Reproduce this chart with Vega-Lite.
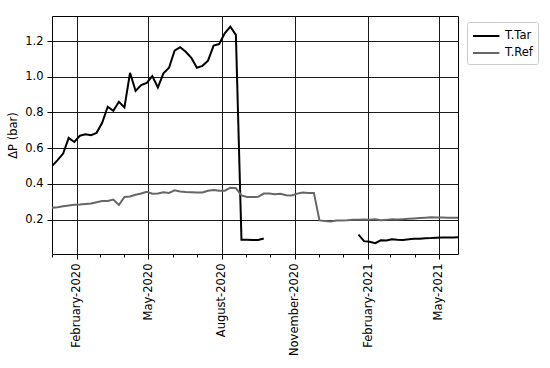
{
  "$schema": "https://vega.github.io/schema/vega-lite/v6.json",
  "width": 406,
  "height": 238,
  "autosize": "none",
  "padding": {"left": 52, "top": 16, "right": 92, "bottom": 114},
  "background": "white",
  "config": {
    "font": "DejaVu Sans",
    "view": {"stroke": "#000", "strokeWidth": 1}
  },
  "data": {"values": [
    {"s":"T.Tar","seg":"a","d":"2020-01-01","v":0.50},
    {"s":"T.Tar","seg":"a","d":"2020-01-08","v":0.533},
    {"s":"T.Tar","seg":"a","d":"2020-01-15","v":0.57},
    {"s":"T.Tar","seg":"a","d":"2020-01-22","v":0.658},
    {"s":"T.Tar","seg":"a","d":"2020-01-29","v":0.635},
    {"s":"T.Tar","seg":"a","d":"2020-02-05","v":0.67},
    {"s":"T.Tar","seg":"a","d":"2020-02-12","v":0.678},
    {"s":"T.Tar","seg":"a","d":"2020-02-19","v":0.673},
    {"s":"T.Tar","seg":"a","d":"2020-02-26","v":0.686},
    {"s":"T.Tar","seg":"a","d":"2020-03-04","v":0.742},
    {"s":"T.Tar","seg":"a","d":"2020-03-11","v":0.832},
    {"s":"T.Tar","seg":"a","d":"2020-03-18","v":0.81},
    {"s":"T.Tar","seg":"a","d":"2020-03-25","v":0.86},
    {"s":"T.Tar","seg":"a","d":"2020-04-01","v":0.828},
    {"s":"T.Tar","seg":"a","d":"2020-04-08","v":1.022},
    {"s":"T.Tar","seg":"a","d":"2020-04-15","v":0.921},
    {"s":"T.Tar","seg":"a","d":"2020-04-22","v":0.953},
    {"s":"T.Tar","seg":"a","d":"2020-04-29","v":0.966},
    {"s":"T.Tar","seg":"a","d":"2020-05-06","v":1.004},
    {"s":"T.Tar","seg":"a","d":"2020-05-13","v":0.94},
    {"s":"T.Tar","seg":"a","d":"2020-05-20","v":1.019},
    {"s":"T.Tar","seg":"a","d":"2020-05-27","v":1.05},
    {"s":"T.Tar","seg":"a","d":"2020-06-03","v":1.146},
    {"s":"T.Tar","seg":"a","d":"2020-06-10","v":1.165},
    {"s":"T.Tar","seg":"a","d":"2020-06-17","v":1.14},
    {"s":"T.Tar","seg":"a","d":"2020-06-24","v":1.106},
    {"s":"T.Tar","seg":"a","d":"2020-07-01","v":1.05},
    {"s":"T.Tar","seg":"a","d":"2020-07-08","v":1.061},
    {"s":"T.Tar","seg":"a","d":"2020-07-15","v":1.09},
    {"s":"T.Tar","seg":"a","d":"2020-07-22","v":1.174},
    {"s":"T.Tar","seg":"a","d":"2020-07-29","v":1.183},
    {"s":"T.Tar","seg":"a","d":"2020-08-05","v":1.243},
    {"s":"T.Tar","seg":"a","d":"2020-08-12","v":1.28},
    {"s":"T.Tar","seg":"a","d":"2020-08-19","v":1.234},
    {"s":"T.Tar","seg":"a","d":"2020-08-26","v":0.088},
    {"s":"T.Tar","seg":"a","d":"2020-09-02","v":0.088},
    {"s":"T.Tar","seg":"a","d":"2020-09-09","v":0.087},
    {"s":"T.Tar","seg":"a","d":"2020-09-16","v":0.087},
    {"s":"T.Tar","seg":"a","d":"2020-09-23","v":0.095},
    {"s":"T.Tar","seg":"b","d":"2021-01-20","v":0.116},
    {"s":"T.Tar","seg":"b","d":"2021-01-27","v":0.080},
    {"s":"T.Tar","seg":"b","d":"2021-02-03","v":0.076},
    {"s":"T.Tar","seg":"b","d":"2021-02-10","v":0.069},
    {"s":"T.Tar","seg":"b","d":"2021-02-17","v":0.085},
    {"s":"T.Tar","seg":"b","d":"2021-02-24","v":0.083},
    {"s":"T.Tar","seg":"b","d":"2021-03-03","v":0.090},
    {"s":"T.Tar","seg":"b","d":"2021-03-10","v":0.088},
    {"s":"T.Tar","seg":"b","d":"2021-03-17","v":0.087},
    {"s":"T.Tar","seg":"b","d":"2021-03-24","v":0.090},
    {"s":"T.Tar","seg":"b","d":"2021-03-31","v":0.094},
    {"s":"T.Tar","seg":"b","d":"2021-04-07","v":0.094},
    {"s":"T.Tar","seg":"b","d":"2021-04-14","v":0.096},
    {"s":"T.Tar","seg":"b","d":"2021-04-21","v":0.097},
    {"s":"T.Tar","seg":"b","d":"2021-04-28","v":0.099},
    {"s":"T.Tar","seg":"b","d":"2021-05-05","v":0.101},
    {"s":"T.Tar","seg":"b","d":"2021-05-12","v":0.100},
    {"s":"T.Tar","seg":"b","d":"2021-05-19","v":0.100},
    {"s":"T.Tar","seg":"b","d":"2021-05-25","v":0.102},
    {"s":"T.Ref","seg":"c","d":"2020-01-01","v":0.267},
    {"s":"T.Ref","seg":"c","d":"2020-01-08","v":0.270},
    {"s":"T.Ref","seg":"c","d":"2020-01-15","v":0.275},
    {"s":"T.Ref","seg":"c","d":"2020-01-22","v":0.280},
    {"s":"T.Ref","seg":"c","d":"2020-01-29","v":0.283},
    {"s":"T.Ref","seg":"c","d":"2020-02-05","v":0.285},
    {"s":"T.Ref","seg":"c","d":"2020-02-12","v":0.288},
    {"s":"T.Ref","seg":"c","d":"2020-02-19","v":0.291},
    {"s":"T.Ref","seg":"c","d":"2020-02-26","v":0.298},
    {"s":"T.Ref","seg":"c","d":"2020-03-04","v":0.305},
    {"s":"T.Ref","seg":"c","d":"2020-03-11","v":0.305},
    {"s":"T.Ref","seg":"c","d":"2020-03-18","v":0.313},
    {"s":"T.Ref","seg":"c","d":"2020-03-25","v":0.282},
    {"s":"T.Ref","seg":"c","d":"2020-04-01","v":0.327},
    {"s":"T.Ref","seg":"c","d":"2020-04-08","v":0.330},
    {"s":"T.Ref","seg":"c","d":"2020-04-15","v":0.340},
    {"s":"T.Ref","seg":"c","d":"2020-04-22","v":0.347},
    {"s":"T.Ref","seg":"c","d":"2020-04-29","v":0.356},
    {"s":"T.Ref","seg":"c","d":"2020-05-06","v":0.345},
    {"s":"T.Ref","seg":"c","d":"2020-05-13","v":0.347},
    {"s":"T.Ref","seg":"c","d":"2020-05-20","v":0.354},
    {"s":"T.Ref","seg":"c","d":"2020-05-27","v":0.350},
    {"s":"T.Ref","seg":"c","d":"2020-06-03","v":0.364},
    {"s":"T.Ref","seg":"c","d":"2020-06-10","v":0.358},
    {"s":"T.Ref","seg":"c","d":"2020-06-17","v":0.355},
    {"s":"T.Ref","seg":"c","d":"2020-06-24","v":0.354},
    {"s":"T.Ref","seg":"c","d":"2020-07-01","v":0.352},
    {"s":"T.Ref","seg":"c","d":"2020-07-08","v":0.352},
    {"s":"T.Ref","seg":"c","d":"2020-07-15","v":0.362},
    {"s":"T.Ref","seg":"c","d":"2020-07-22","v":0.366},
    {"s":"T.Ref","seg":"c","d":"2020-07-29","v":0.362},
    {"s":"T.Ref","seg":"c","d":"2020-08-05","v":0.362},
    {"s":"T.Ref","seg":"c","d":"2020-08-12","v":0.379},
    {"s":"T.Ref","seg":"c","d":"2020-08-19","v":0.376},
    {"s":"T.Ref","seg":"c","d":"2020-08-26","v":0.336},
    {"s":"T.Ref","seg":"c","d":"2020-09-02","v":0.327},
    {"s":"T.Ref","seg":"c","d":"2020-09-09","v":0.327},
    {"s":"T.Ref","seg":"c","d":"2020-09-16","v":0.328},
    {"s":"T.Ref","seg":"c","d":"2020-09-23","v":0.346},
    {"s":"T.Ref","seg":"c","d":"2020-09-30","v":0.346},
    {"s":"T.Ref","seg":"c","d":"2020-10-07","v":0.343},
    {"s":"T.Ref","seg":"c","d":"2020-10-14","v":0.345},
    {"s":"T.Ref","seg":"c","d":"2020-10-21","v":0.337},
    {"s":"T.Ref","seg":"c","d":"2020-10-28","v":0.336},
    {"s":"T.Ref","seg":"c","d":"2020-11-04","v":0.346},
    {"s":"T.Ref","seg":"c","d":"2020-11-11","v":0.352},
    {"s":"T.Ref","seg":"c","d":"2020-11-18","v":0.350},
    {"s":"T.Ref","seg":"c","d":"2020-11-25","v":0.350},
    {"s":"T.Ref","seg":"c","d":"2020-12-02","v":0.196},
    {"s":"T.Ref","seg":"c","d":"2020-12-09","v":0.193},
    {"s":"T.Ref","seg":"c","d":"2020-12-16","v":0.190},
    {"s":"T.Ref","seg":"c","d":"2020-12-23","v":0.195},
    {"s":"T.Ref","seg":"c","d":"2020-12-30","v":0.196},
    {"s":"T.Ref","seg":"c","d":"2021-01-06","v":0.197},
    {"s":"T.Ref","seg":"c","d":"2021-01-13","v":0.199},
    {"s":"T.Ref","seg":"c","d":"2021-01-20","v":0.200},
    {"s":"T.Ref","seg":"c","d":"2021-01-27","v":0.201},
    {"s":"T.Ref","seg":"c","d":"2021-02-03","v":0.200},
    {"s":"T.Ref","seg":"c","d":"2021-02-10","v":0.203},
    {"s":"T.Ref","seg":"c","d":"2021-02-17","v":0.197},
    {"s":"T.Ref","seg":"c","d":"2021-02-24","v":0.199},
    {"s":"T.Ref","seg":"c","d":"2021-03-03","v":0.202},
    {"s":"T.Ref","seg":"c","d":"2021-03-10","v":0.201},
    {"s":"T.Ref","seg":"c","d":"2021-03-17","v":0.203},
    {"s":"T.Ref","seg":"c","d":"2021-03-24","v":0.205},
    {"s":"T.Ref","seg":"c","d":"2021-03-31","v":0.207},
    {"s":"T.Ref","seg":"c","d":"2021-04-07","v":0.209},
    {"s":"T.Ref","seg":"c","d":"2021-04-14","v":0.211},
    {"s":"T.Ref","seg":"c","d":"2021-04-21","v":0.213},
    {"s":"T.Ref","seg":"c","d":"2021-04-28","v":0.212},
    {"s":"T.Ref","seg":"c","d":"2021-05-05","v":0.212},
    {"s":"T.Ref","seg":"c","d":"2021-05-12","v":0.211},
    {"s":"T.Ref","seg":"c","d":"2021-05-19","v":0.211},
    {"s":"T.Ref","seg":"c","d":"2021-05-25","v":0.211}
  ]},
  "mark": {"type": "line", "strokeWidth": 2, "clip": true},
  "encoding": {
    "x": {
      "field": "d", "type": "temporal",
      "scale": {"type": "utc", "domain": [{"year": 2020, "month": 1, "date": 1, "utc": true}, {"year": 2021, "month": 5, "date": 25, "utc": true}]},
      "axis": {
        "title": null,
        "tickCount": {"interval": "month", "step": 1},
        "labelExpr": "utcmonth(datum.value) % 3 == 1 ? utcFormat(datum.value, '%B-%Y') : ''",
        "labelAngle": 270,
        "labelOverlap": false,
        "labelBound": false,
        "labelFlush": false,
        "labelFontSize": 11.5,
        "labelColor": "#000",
        "labelPadding": 4,
        "domain": false,
        "grid": true,
        "gridColor": "#1a1a1a",
        "gridWidth": 1,
        "gridOpacity": {"condition": {"test": "utcmonth(datum.value) % 3 == 1", "value": 1}, "value": 0},
        "tickColor": "#000",
        "tickSize": {"condition": {"test": "utcmonth(datum.value) % 3 == 1", "value": 5}, "value": 3}
      }
    },
    "y": {
      "field": "v", "type": "quantitative",
      "scale": {"domain": [0.008, 1.34], "nice": false, "zero": false},
      "axis": {
        "title": "ΔP (bar)",
        "titleFontSize": 11.5,
        "titleFontWeight": "normal",
        "titleColor": "#000",
        "titlePadding": 6,
        "values": [0.2, 0.4, 0.6, 0.8, 1.0, 1.2],
        "format": ".1f",
        "labelFontSize": 11.5,
        "labelColor": "#000",
        "labelPadding": 4,
        "tickSize": 5,
        "tickColor": "#000",
        "domain": false,
        "grid": true,
        "gridColor": "#1a1a1a",
        "gridWidth": 1
      }
    },
    "color": {
      "field": "s", "type": "nominal",
      "scale": {"domain": ["T.Tar", "T.Ref"], "range": ["#000000", "#666666"]},
      "legend": {
        "title": null,
        "orient": "none",
        "legendX": 415,
        "legendY": 6,
        "padding": 5,
        "strokeColor": "#cccccc",
        "fillColor": "#ffffff",
        "cornerRadius": 2,
        "symbolType": "M-1,0H2.3",
        "symbolSize": 256,
        "symbolStrokeWidth": 2,
        "labelOffset": 15,
        "labelFontSize": 11.5,
        "labelColor": "#000",
        "rowPadding": 2
      }
    },
    "detail": {"field": "seg"}
  }
}
